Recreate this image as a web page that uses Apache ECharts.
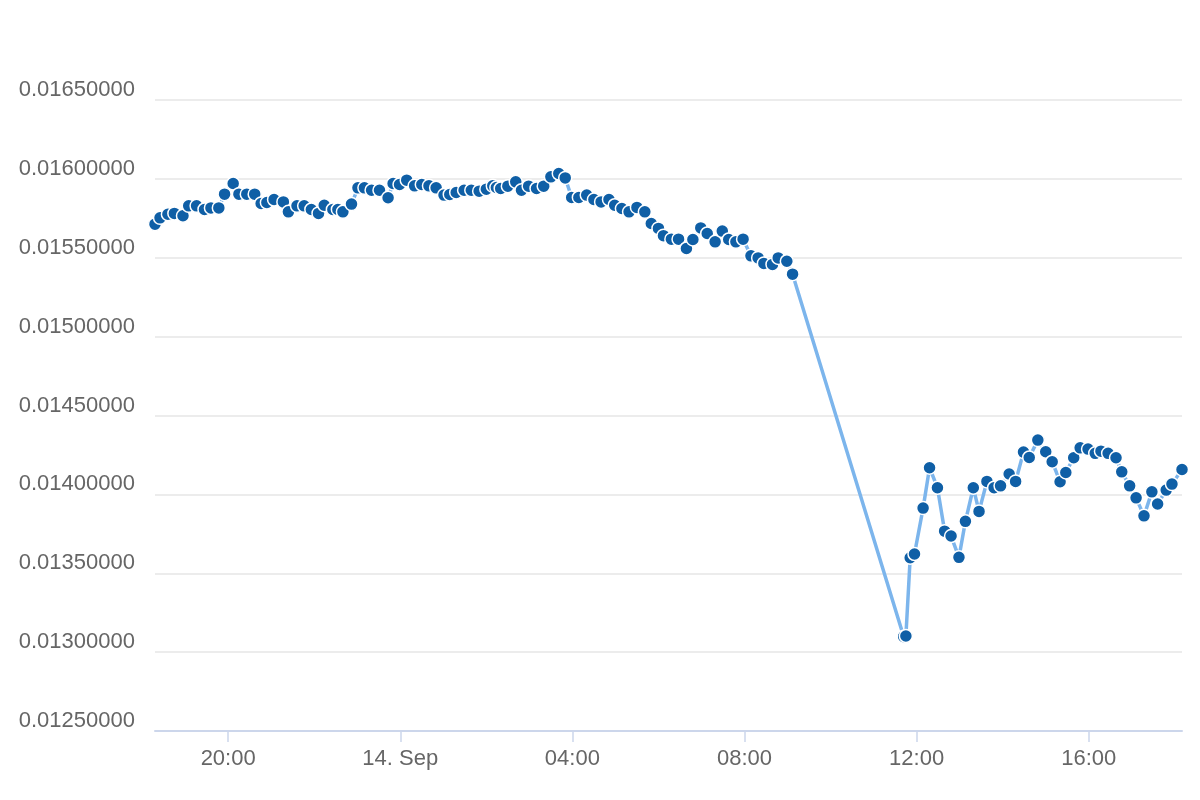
<!DOCTYPE html>
<html>
<head>
<meta charset="utf-8">
<script src="https://cdn.jsdelivr.net/npm/echarts@6/dist/echarts.min.js"></script>
<style>
html,body{margin:0;padding:0;background:#fff;}
#chart{width:1200px;height:800px;}
</style>
</head>
<body>
<div id="chart"></div>
<script>
// minutes after 13 Sep 18:00
const minutesFromStart = [
18,25,36,45,57,65,76,87,96,107,
115,127,135,146,157,166,174,184,197,204,
216,226,236,246,254,266,273,280,292,301,
310,320,331,343,350,359,369,380,390,400,
410,421,429,438,449,459,470,480,489,494,
500,510,521,529,539,550,560,570,581,590,
599,609,620,630,640,651,659,669,679,690,
701,710,720,727,738,748,759,768,779,788,
799,809,818,828,838,849,859,867,879,887,
899,907,
1062,1065,1071,1077,1089,1098,1109,1119,1128,1139,
1148,1159,1167,1178,1188,1197,1209,1218,1229,1237,
1249,1260,1269,1280,1288,1299,1308,1319,1329,1337,
1347,1358,1366,1377,1386,1397,1408,1416,1428,1436,
1450
];
const prices = [
0.015713,0.015753,0.015776,0.015781,0.015766,0.015829,0.015829,0.015806,0.015816,0.015816,
0.015903,0.015971,0.015903,0.015903,0.015903,0.015844,0.015850,0.015869,0.015854,0.015791,
0.015829,0.015829,0.015806,0.015781,0.015833,0.015806,0.015806,0.015791,0.015840,0.015943,
0.015943,0.015928,0.015928,0.015880,0.015971,0.015964,0.015992,0.015956,0.015964,0.015956,
0.015943,0.015897,0.015901,0.015914,0.015928,0.015928,0.015922,0.015935,0.015956,0.015945,
0.015939,0.015954,0.015981,0.015928,0.015954,0.015939,0.015954,0.016013,0.016034,0.016006,
0.015882,0.015882,0.015897,0.015869,0.015854,0.015869,0.015833,0.015812,0.015791,0.015819,
0.015791,0.015717,0.015686,0.015640,0.015618,0.015618,0.015559,0.015616,0.015689,0.015654,
0.015601,0.015669,0.015616,0.015601,0.015618,0.015512,0.015499,0.015464,0.015458,0.015499,
0.015478,0.015396,
0.013098,0.013102,0.013598,0.013622,0.013913,0.014169,0.014042,0.013767,0.013736,0.013601,
0.013829,0.014042,0.013892,0.014082,0.014042,0.014054,0.014129,0.014082,0.014268,0.014234,
0.014344,0.014270,0.014207,0.014080,0.014139,0.014232,0.014295,0.014287,0.014260,0.014274,
0.014260,0.014232,0.014143,0.014054,0.013978,0.013864,0.014016,0.013939,0.014027,0.014065,
0.014158
];
// x tick positions (minutes after 13 Sep 18:00) and their labels
const tickMinutes = [120, 360, 600, 840, 1080, 1320];
const tickLabels = ['20:00', '14. Sep', '04:00', '08:00', '12:00', '16:00'];
const yTicks = {min: 0.0125, max: 0.0165, step: 0.0005};

const seriesData = minutesFromStart.map((m, i) => [m, prices[i]]);

const chart = echarts.init(document.getElementById('chart'), null, {renderer: 'canvas'});
chart.setOption({
  animation: false,
  backgroundColor: '#ffffff',
  grid: {left: 155, right: 18, top: 100, bottom: 69},
  xAxis: {
    type: 'value',
    min: minutesFromStart[0],
    max: minutesFromStart[minutesFromStart.length - 1],
    axisLine: {show: true, lineStyle: {color: '#ccd6eb', width: 2}},
    axisTick: {show: true, length: 11, lineStyle: {color: '#ccd6eb', width: 1.5}, customValues: tickMinutes},
    axisLabel: {
      customValues: tickMinutes,
      formatter: v => { const i = tickMinutes.indexOf(Math.round(v)); return i >= 0 ? tickLabels[i] : ''; },
      color: '#666666',
      fontSize: 22,
      fontFamily: 'Liberation Sans, Arial, sans-serif',
      margin: 17,
      showMinLabel: true,
      showMaxLabel: true
    },
    splitLine: {show: false}
  },
  yAxis: {
    type: 'value',
    min: yTicks.min,
    max: yTicks.max,
    interval: yTicks.step,
    axisLine: {show: false},
    axisTick: {show: false},
    splitLine: {lineStyle: {color: '#e6e6e6', width: 1.5}},
    axisLabel: {
      formatter: v => v.toFixed(8),
      color: '#666666',
      fontSize: 22,
      lineHeight: 20,
      fontFamily: 'Liberation Sans, Arial, sans-serif',
      margin: 20,
      verticalAlign: 'bottom'
    }
  },
  series: [{
    type: 'line',
    data: seriesData,
    showAllSymbol: true,
    symbol: 'circle',
    symbolSize: 13,
    lineStyle: {color: '#7cb5ec', width: 3.5},
    itemStyle: {color: '#0f5fa6', borderColor: '#ffffff', borderWidth: 1.5},
    emphasis: {disabled: true}
  }]
});
</script>
</body>
</html>
